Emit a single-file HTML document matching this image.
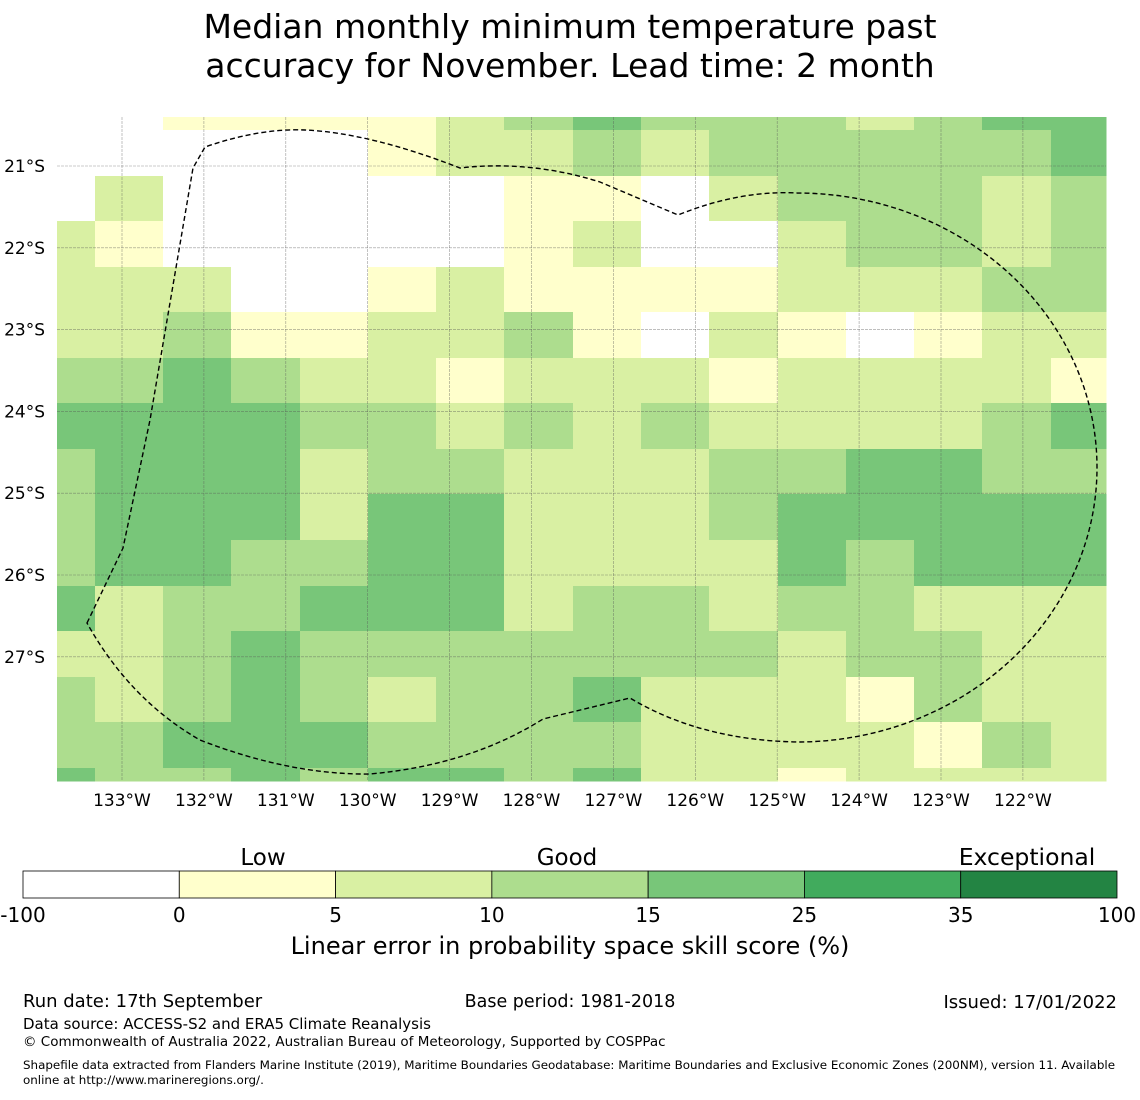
<!DOCTYPE html>
<html><head><meta charset="utf-8"><style>
body{margin:0;background:#fff;width:1140px;height:1095px;overflow:hidden;font-family:"Liberation Sans","DejaVu Sans",sans-serif;}
svg text{font-family:"DejaVu Sans","Liberation Sans",sans-serif;}
</style></head><body>
<svg id="chart" width="1140" height="1095" xmlns="http://www.w3.org/2000/svg">
<text x="570" y="38" font-size="33" text-anchor="middle">Median monthly minimum temperature past</text>
<text x="570" y="77" font-size="33" text-anchor="middle">accuracy for November. Lead time: 2 month</text>
<g id="cells"></g>
<g id="grid"></g>
<path d="M87,623 L123,548 L150,420 L193,168 L205,147 Q260,128 305,130 Q370,133 460,168 Q530,160 600,182 L678,215 Q740,190 797,193 A300,274.5 0 0 1 797,742 Q700,740 630,698 L543,719 Q470,765 370,774 Q290,775 200,740 Q130,700 87,623 Z" fill="none" stroke="#000" stroke-width="1.4" stroke-dasharray="5,3"/>
<g id="axes"></g>
<g id="cbar"></g>
<text x="570" y="954" font-size="24" text-anchor="middle">Linear error in probability space skill score (%)</text>
<text x="263" y="865" font-size="23" text-anchor="middle">Low</text>
<text x="567" y="865" font-size="23" text-anchor="middle">Good</text>
<text x="1027" y="865" font-size="23.5" text-anchor="middle">Exceptional</text>
<text x="23" y="1007" font-size="18">Run date: 17th September</text>
<text x="570" y="1007" font-size="17.5" text-anchor="middle">Base period: 1981-2018</text>
<text x="1117" y="1008" font-size="18" text-anchor="end">Issued: 17/01/2022</text>
<text x="23" y="1029" font-size="15">Data source: ACCESS-S2 and ERA5 Climate Reanalysis</text>
<text x="23" y="1046" font-size="13.5">© Commonwealth of Australia 2022, Australian Bureau of Meteorology, Supported by COSPPac</text>
<text x="23" y="1069" font-size="11.9">Shapefile data extracted from Flanders Marine Institute (2019), Maritime Boundaries Geodatabase: Maritime Boundaries and Exclusive Economic Zones (200NM), version 11. Available</text>
<text x="23" y="1084" font-size="11.9">online at http://www.marineregions.org/.</text>
</svg>
<script>
const colEdges=[57,95,163,231,300,368,436,504,573,641,709,778,846,914,982,1051,1106];
const rowEdges=[117,130,176,221,267,312,358,403,449,494,540,586,631,677,722,768,781];
const palette=['#ffffff','#ffffcc','#d9f0a3','#addd8e','#78c679','#41ab5d','#238443'];
const skillGrid=[
"0011112343332344",
"0000012232333334",
"0200000110233323",
"2100000120023323",
"2220012111122233",
"2231122310210122",
"3343221222122221",
"4444332323222234",
"3444233222334433",
"3444244222344444",
"3443344222243444",
"4233444233233222",
"2234333333323322",
"3234323342221322",
"3344433332222132",
"4334344342212222"];
const lonTicks=[133,132,131,130,129,128,127,126,125,124,123,122];
const latTicks=[21,22,23,24,25,26,27];
const cbBounds=['-100','0','5','10','15','25','35','100'];
const NS='http://www.w3.org/2000/svg';
function mk(t,a,p){const e=document.createElementNS(NS,t);for(const k in a)e.setAttribute(k,a[k]);p.appendChild(e);return e;}
const xLon=l=>122+(133-l)*81.9;
const yLat=l=>166+(l-21)*81.8;
const cells=document.getElementById('cells');
skillGrid.forEach((row,r)=>{[...row].forEach((v,c)=>{
 const e=mk('rect',{x:colEdges[c],y:rowEdges[r],width:colEdges[c+1]-colEdges[c]+0.5,height:rowEdges[r+1]-rowEdges[r]+0.5,fill:palette[+v]},cells);
 
 
});});
const grid=document.getElementById('grid'),axes=document.getElementById('axes');
lonTicks.forEach(l=>{const x=xLon(l);
 const g=mk('line',{x1:x,x2:x,y1:117,y2:781,stroke:'#555','stroke-width':0.6,'stroke-dasharray':'3,1','stroke-opacity':0.6},grid);
 
 
 const t=mk('text',{x:x,y:806,'font-size':17,'text-anchor':'middle'},axes);t.textContent=l+'°W';
 
 
});
latTicks.forEach(l=>{const y=yLat(l);
 const g=mk('line',{x1:57,x2:1106,y1:y,y2:y,stroke:'#555','stroke-width':0.6,'stroke-dasharray':'3,1','stroke-opacity':0.6},grid);
 
 
 const t=mk('text',{x:45,y:y+6,'font-size':17,'text-anchor':'end'},axes);t.textContent=l+'°S';
 
 
});
const cb=document.getElementById('cbar');const w=(1117-23)/7;
for(let i=0;i<7;i++){
 const e=mk('rect',{x:23+i*w,y:871,width:w,height:27,fill:palette[i],stroke:'#000','stroke-width':0.8},cb);
 
 
}
cbBounds.forEach((b,i)=>{
 const t=mk('text',{x:23+i*w,y:922,'font-size':20,'text-anchor':'middle'},cb);t.textContent=b;
 
 
});
</script>
</body></html>
